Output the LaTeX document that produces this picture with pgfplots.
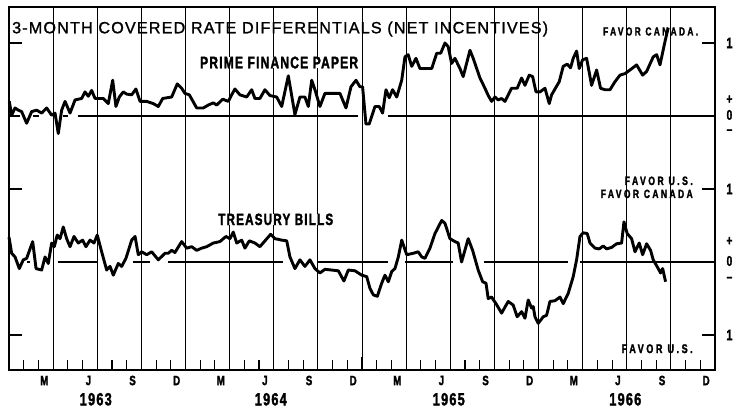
\documentclass[border=0pt]{standalone}
\usepackage{pgfplots}
\pgfplotsset{compat=1.18}
\usepackage{pgfplotstable}
\usepackage{fontspec}
\setmainfont{Liberation Sans}
\newfontfamily\titlef{Liberation Sans}[LetterSpace=7, FakeBold=1.2]
\newfontfamily\cond{Liberation Sans}[FakeStretch=0.72, LetterSpace=7, FakeBold=1.8]
\newfontfamily\condw{Liberation Sans}[FakeStretch=0.72, LetterSpace=20, FakeBold=1.8]
\newcommand{\mlab}[1]{\cond\bfseries\fontsize{13.5}{13.5}\selectfont #1}
\newcommand{\ylab}[1]{\resizebox{32pt}{!}{\cond\bfseries\fontsize{16.5}{16.5}\selectfont #1}}
\newcommand{\rlab}[1]{\cond\bfseries\fontsize{14}{14}\selectfont #1}

% months since 1 Jan 1963 ; value (percent per annum)
\pgfplotstableread{
m v
0.02 0.20
0.18 0.01
0.41 0.11
0.63 0.08
0.86 0.06
1.20 -0.10
1.54 0.06
1.88 0.08
2.22 0.04
2.56 0.11
2.90 0.01
3.13 0.04
3.35 -0.24
3.58 0.08
3.81 0.20
4.15 0.04
4.49 0.22
4.94 0.24
5.17 0.33
5.39 0.27
5.62 0.35
5.85 0.24
6.41 0.24
6.75 0.17
7.05 0.49
7.27 0.13
7.50 0.26
7.77 0.33
8.00 0.30
8.34 0.29
8.63 0.37
8.91 0.20
9.36 0.20
9.81 0.17
10.15 0.13
10.45 0.24
11.06 0.26
11.44 0.44
11.74 0.38
11.96 0.31
12.26 0.29
12.76 0.11
13.21 0.11
13.55 0.15
13.89 0.18
14.12 0.15
14.53 0.23
14.91 0.20
15.14 0.29
15.36 0.37
15.70 0.29
16.16 0.26
16.50 0.36
16.72 0.24
17.06 0.24
17.40 0.36
17.74 0.28
18.20 0.26
18.54 0.13
18.99 0.55
19.44 0.02
19.78 0.26
20.12 0.26
20.35 0.13
20.58 0.49
20.80 0.36
21.14 0.13
21.48 0.31
22.50 0.31
22.91 0.11
23.25 0.40
23.59 0.49
23.86 0.40
24.04 0.40
24.27 -0.11
24.49 -0.11
24.88 0.13
25.17 0.13
25.40 0.04
25.63 0.36
25.85 0.25
26.08 0.36
26.36 0.26
26.70 0.49
26.92 0.81
27.14 0.84
27.38 0.68
27.67 0.79
27.94 0.65
28.74 0.65
29.08 0.86
29.35 0.86
29.64 1.00
29.86 0.95
30.09 0.72
30.32 0.79
30.66 0.65
30.88 0.54
31.34 0.90
31.56 0.79
32.02 0.52
32.36 0.38
32.56 0.29
32.81 0.20
33.04 0.26
33.26 0.22
33.49 0.24
33.72 0.20
34.17 0.38
34.55 0.38
34.85 0.52
35.08 0.42
35.37 0.56
35.60 0.54
35.83 0.33
36.10 0.33
36.44 0.38
36.73 0.17
36.89 0.29
37.41 0.47
37.68 0.68
37.95 0.71
38.18 0.66
38.36 0.79
38.59 0.89
38.77 0.65
39.00 0.77
39.27 0.79
39.61 0.42
39.95 0.63
40.22 0.38
40.52 0.36
40.86 0.36
41.20 0.47
41.54 0.56
41.88 0.58
42.22 0.63
42.67 0.70
43.08 0.56
43.35 0.61
43.80 0.81
44.03 0.84
44.26 0.70
44.60 1.02
44.82 1.21
}\primetab

\pgfplotstableread{
m v
0.00 0.34
0.18 0.12
0.41 0.07
0.70 -0.09
0.97 0.03
1.20 0.05
1.61 0.28
1.84 -0.09
2.22 -0.11
2.45 0.07
2.67 -0.02
2.90 0.26
3.08 0.21
3.28 0.37
3.47 0.32
3.69 0.48
3.92 0.32
4.15 0.21
4.42 0.35
4.71 0.26
5.01 0.30
5.23 0.21
5.51 0.30
5.78 0.26
6.00 0.37
6.30 0.14
6.64 -0.11
6.87 -0.06
7.09 -0.18
7.43 -0.02
7.66 -0.06
7.95 0.05
8.34 0.30
8.57 0.35
8.79 0.10
9.02 0.14
9.36 0.10
9.70 0.14
10.15 0.03
10.61 0.12
10.83 0.12
11.06 0.16
11.28 0.13
11.74 0.28
12.08 0.19
12.42 0.21
12.76 0.16
13.10 0.19
13.44 0.21
13.89 0.26
14.34 0.28
14.75 0.35
15.02 0.32
15.25 0.41
15.48 0.26
15.82 0.30
16.04 0.19
16.34 0.29
16.72 0.26
17.06 0.21
17.79 0.38
18.08 0.32
18.54 0.30
18.88 0.29
19.10 0.07
19.44 -0.09
19.78 0.03
20.12 -0.06
20.46 0.03
20.80 -0.09
21.14 -0.15
21.48 -0.10
21.94 -0.11
22.39 -0.12
22.77 -0.26
23.07 -0.11
23.52 -0.12
23.98 -0.18
24.32 -0.20
24.54 -0.36
24.77 -0.45
25.04 -0.47
25.34 -0.29
25.56 -0.18
25.79 -0.27
26.02 -0.13
26.24 -0.09
26.47 0.07
26.70 0.30
27.04 0.10
27.49 0.12
27.82 0.14
28.06 0.07
28.28 0.05
28.62 0.19
28.96 0.39
29.42 0.57
29.64 0.53
29.98 0.32
30.32 0.28
30.54 0.26
30.77 0.00
31.22 0.32
31.52 0.16
31.90 -0.11
32.20 -0.27
32.43 -0.29
32.58 -0.50
32.81 -0.48
33.11 -0.57
33.49 -0.70
33.94 -0.54
34.28 -0.59
34.55 -0.75
34.85 -0.68
35.08 -0.77
35.30 -0.52
35.53 -0.63
35.64 -0.61
35.76 -0.75
35.98 -0.84
36.32 -0.75
36.55 -0.73
36.78 -0.54
37.12 -0.53
37.46 -0.48
37.68 -0.57
38.02 -0.43
38.36 -0.20
38.59 0.03
38.82 0.35
39.04 0.40
39.31 0.39
39.50 0.26
39.84 0.19
40.13 0.18
40.40 0.22
40.63 0.18
40.97 0.20
41.31 0.25
41.65 0.26
41.81 0.55
42.03 0.39
42.33 0.32
42.56 0.14
42.85 0.26
43.08 0.10
43.35 0.25
43.62 0.16
43.80 0.03
44.14 -0.09
44.30 -0.15
44.44 -0.09
44.64 -0.27
}\billtab

\begin{document}
\begin{tikzpicture}
\begin{axis}[
  scale only axis, width=706pt, height=363pt,
  xmin=0, xmax=48, ymin=-1.479, ymax=3.493,
  clip=false,
  axis line style={black, line width=1.3pt},
  xtick={3,6,...,45}, xticklabels={},
  xmajorgrids, major x grid style={black, line width=0.8pt},
  minor xtick={1,2,4,5,7,8,10,11,13,14,16,17,19,20,22,23,25,26,28,29,31,32,34,35,37,38,40,41,43,44,46,47},
  minor tick length=10pt,
  xtick pos=left,
  ytick={-1,1,3}, yticklabels={}, ytick pos=both,
  major tick length=13pt,
  tick style={black, line width=1.1pt},
  tick align=inside,
]
% zero lines
\addplot[black, line width=1.3pt, forget plot] coordinates {(0,2) (0.75,2)};
\addplot[black, line width=1.3pt, forget plot] coordinates {(1.63,2) (2.04,2)};
\addplot[black, line width=1.3pt, forget plot] coordinates {(3.67,2) (4.01,2)};
\addplot[black, line width=1.3pt, forget plot] coordinates {(4.69,2) (23.72,2)};
\addplot[black, line width=1.3pt, forget plot] coordinates {(25.76,2) (48,2)};
\addplot[black, line width=1.3pt, forget plot] coordinates {(1.22,0) (1.43,0)};
\addplot[black, line width=1.3pt, forget plot] coordinates {(3.33,0) (6.0,0)};
\addplot[black, line width=1.3pt, forget plot] coordinates {(8.43,0) (9.58,0)};
\addplot[black, line width=1.3pt, forget plot] coordinates {(10.81,0) (18.63,0)};
\addplot[black, line width=1.3pt, forget plot] coordinates {(21.01,0) (25.76,0)};
\addplot[black, line width=1.3pt, forget plot] coordinates {(26.92,0) (30.18,0)};
\addplot[black, line width=1.3pt, forget plot] coordinates {(32.29,0) (38.0,0)};
\addplot[black, line width=1.3pt, forget plot] coordinates {(38.82,0) (48,0)};
% series
\addplot[black, line width=2.9pt, line join=round] table[x=m, y expr=\thisrow{v}+2] {\primetab};
\addplot[black, line width=2.9pt, line join=round] table[x=m, y=v] {\billtab};

% texts
\node[anchor=base west, inner sep=0] at (axis cs:0.20,3.133)
  {\resizebox{536pt}{!}{\titlef\fontsize{16}{16}\selectfont 3-MONTH COVERED RATE DIFFERENTIALS (NET INCENTIVES)}};
\node[anchor=base west, inner sep=0, fill=white] at (axis cs:12.98,2.653)
  {\resizebox{158pt}{!}{\cond\bfseries\fontsize{16.3}{16.3}\selectfont PRIME FINANCE PAPER}};
\node[anchor=base west, inner sep=0, fill=white] at (axis cs:14.21,0.507)
  {\resizebox{115pt}{!}{\cond\bfseries\fontsize{16.5}{16.5}\selectfont TREASURY BILLS}};
\node[anchor=base west, inner sep=0] at (axis cs:40.38,3.103)
  {\resizebox{95pt}{!}{\condw\bfseries\fontsize{11.5}{11.5}\selectfont FAVOR CANADA.}};
\node[anchor=base east, inner sep=0] at (axis cs:46.50,1.055)
  {\resizebox{68pt}{!}{\condw\bfseries\fontsize{11.5}{11.5}\selectfont FAVOR U.S.}};
\node[anchor=base east, inner sep=0] at (axis cs:46.50,0.877)
  {\resizebox{92pt}{!}{\condw\bfseries\fontsize{11.5}{11.5}\selectfont FAVOR CANADA}};
\node[anchor=base east, inner sep=0] at (axis cs:46.50,-1.247)
  {\resizebox{71pt}{!}{\condw\bfseries\fontsize{11.5}{11.5}\selectfont FAVOR U.S.}};
% right-hand scale
\node[inner sep=0] at (axis cs:48.98,3) {\cond\bfseries\fontsize{15}{15}\selectfont 1};
\node[inner sep=0] at (axis cs:48.98,1) {\cond\bfseries\fontsize{15}{15}\selectfont 1};
\node[inner sep=0] at (axis cs:48.98,-1) {\cond\bfseries\fontsize{15}{15}\selectfont 1};
\node[inner sep=0] at (axis cs:48.98,2.225) {\rlab{+}};
\node[inner sep=0] at (axis cs:48.98,2.014) {\rlab{0}};
\node[inner sep=0] at (axis cs:48.98,1.785) {\rlab{–}};
\node[inner sep=0] at (axis cs:48.98,0.285) {\rlab{+}};
\node[inner sep=0] at (axis cs:48.98,0.014) {\rlab{0}};
\node[inner sep=0] at (axis cs:48.98,-0.235) {\rlab{–}};
% month labels
\node[inner sep=0] at (axis cs:2.4,-1.623) {\mlab{M}};
\node[inner sep=0] at (axis cs:5.4,-1.623) {\mlab{J}};
\node[inner sep=0] at (axis cs:8.4,-1.623) {\mlab{S}};
\node[inner sep=0] at (axis cs:11.4,-1.623) {\mlab{D}};
\node[inner sep=0] at (axis cs:14.4,-1.623) {\mlab{M}};
\node[inner sep=0] at (axis cs:17.4,-1.623) {\mlab{J}};
\node[inner sep=0] at (axis cs:20.4,-1.623) {\mlab{S}};
\node[inner sep=0] at (axis cs:23.4,-1.623) {\mlab{D}};
\node[inner sep=0] at (axis cs:26.4,-1.623) {\mlab{M}};
\node[inner sep=0] at (axis cs:29.4,-1.623) {\mlab{J}};
\node[inner sep=0] at (axis cs:32.4,-1.623) {\mlab{S}};
\node[inner sep=0] at (axis cs:35.4,-1.623) {\mlab{D}};
\node[inner sep=0] at (axis cs:38.4,-1.623) {\mlab{M}};
\node[inner sep=0] at (axis cs:41.4,-1.623) {\mlab{J}};
\node[inner sep=0] at (axis cs:44.4,-1.623) {\mlab{S}};
\node[inner sep=0] at (axis cs:47.4,-1.623) {\mlab{D}};
% year labels
\node[inner sep=0] at (axis cs:5.9,-1.880) {\ylab{1963}};
\node[inner sep=0] at (axis cs:17.8,-1.880) {\ylab{1964}};
\node[inner sep=0] at (axis cs:29.9,-1.880) {\ylab{1965}};
\node[inner sep=0] at (axis cs:41.9,-1.880) {\ylab{1966}};
\end{axis}
\path ([shift={(-9pt,-39pt)}]current axis.south west) rectangle ([shift={(20pt,7pt)}]current axis.north east);
\end{tikzpicture}
\end{document}
